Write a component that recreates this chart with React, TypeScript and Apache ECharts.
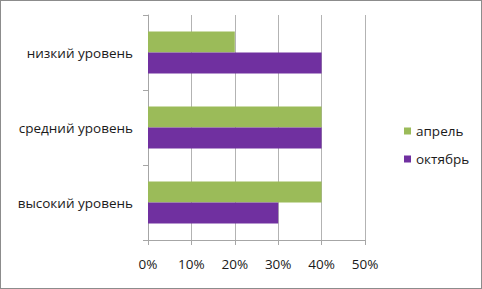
import React, { useEffect, useRef } from "react";
import * as echarts from "echarts";

const categories = ["высокий уровень", "средний уровень", "низкий уровень"];
const seriesNames = ["апрель", "октябрь"];
const aprilValues = [40, 40, 20];
const octoberValues = [30, 40, 40];
const xTicks = [0, 10, 20, 30, 40, 50];

const FONT = "'Open Sans', 'Noto Sans', sans-serif";

export default function App() {
  const ref = useRef<HTMLDivElement>(null);
  useEffect(() => {
    if (!ref.current) return;
    const chart = echarts.init(ref.current, null, { renderer: "svg" });
    chart.setOption({
      animation: false,
      backgroundColor: "#ffffff",
      textStyle: { fontFamily: FONT },
      grid: { left: 147, right: 116, top: 14, bottom: 48, containLabel: false },
      legend: {
        orient: "vertical",
        left: 398,
        top: 118,
        itemWidth: 7,
        itemHeight: 7,
        itemGap: 14,
        icon: "rect",
        data: seriesNames,
        textStyle: { fontSize: 13.5, color: "#1a1a1a", fontFamily: FONT },
      },
      xAxis: {
        type: "value",
        min: xTicks[0],
        max: xTicks[xTicks.length - 1],
        interval: 10,
        axisLine: { show: true, lineStyle: { color: "#a6a6a6" } },
        axisTick: { show: true, length: 5, lineStyle: { color: "#a6a6a6" } },
        splitLine: { show: true, lineStyle: { color: "#b3b3b3" } },
        axisLabel: {
          formatter: "{value}%",
          margin: 17,
          fontSize: 13.5,
          color: "#1a1a1a",
          fontFamily: FONT,
        },
      },
      yAxis: {
        type: "category",
        data: categories,
        axisLine: { show: true, lineStyle: { color: "#a6a6a6" } },
        axisTick: { show: true, length: 5, lineStyle: { color: "#a6a6a6" } },
        axisLabel: { margin: 15, fontSize: 13.5, color: "#1a1a1a", fontFamily: FONT },
      },
      series: [
        {
          name: seriesNames[0],
          type: "bar",
          data: aprilValues,
          barWidth: 21,
          barGap: "0%",
          itemStyle: { color: "#9bbb59" },
        },
        {
          name: seriesNames[1],
          type: "bar",
          data: octoberValues,
          barWidth: 21,
          barGap: "0%",
          itemStyle: { color: "#7030a0" },
        },
      ],
    });
    return () => chart.dispose();
  }, []);
  return (
    <div
      style={{
        position: "absolute",
        left: 0,
        top: 0,
        width: 482,
        height: 289,
        boxSizing: "border-box",
        border: "1px solid #8c8c8c",
        overflow: "hidden",
        background: "#fff",
      }}
    >
      <div ref={ref} style={{ width: 480, height: 287 }} />
    </div>
  );
}
